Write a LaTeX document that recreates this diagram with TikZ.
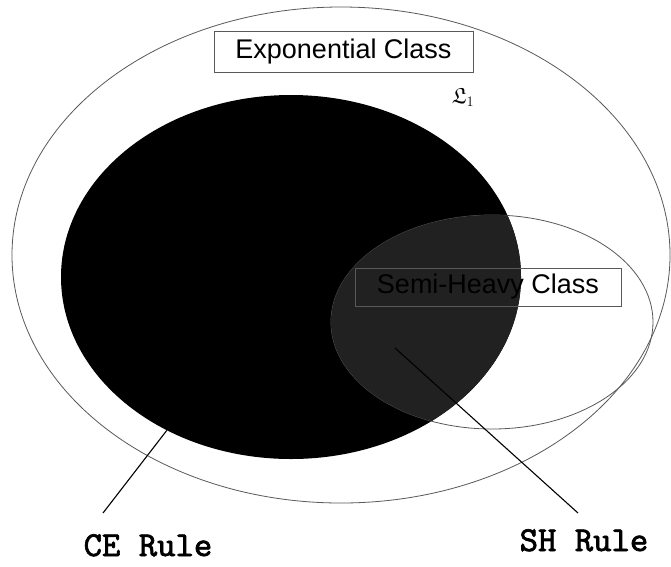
\documentclass[tikz,border=0pt]{standalone}
\usepackage{amsfonts}
\usepackage{fontspec}
\setmainfont{Liberation Sans}
\newfontfamily\typefont[FakeBold=2]{lmmono10-regular.otf}
\usetikzlibrary{shapes.geometric}
\begin{document}
\begin{tikzpicture}[x=1pt,y=-1pt,
  thinline/.style={draw=black!65,line width=0.8pt},
  classbox/.style={thinline,rectangle,inner sep=0pt,font=\fontsize{27}{30}\selectfont},
  rulelabel/.style={font=\typefont\fontsize{35}{37}\selectfont,anchor=base,inner sep=0pt},
  pointer/.style={draw=black,line width=1.1pt}]
\useasboundingbox (0,0) rectangle (671,566);
\fill[white] (0,0) rectangle (671,566);
% outer ellipse (Exponential class)
\node[ellipse,thinline,minimum width=658pt,minimum height=496pt,inner sep=0pt] (outer) at (341,255) {};
% black ellipse (CE rule region)
\node[ellipse,fill=black,minimum width=460pt,minimum height=364pt,inner sep=0pt] (blk) at (291,277) {};
% inner ellipse (Semi-heavy class)
\node[ellipse,thinline,minimum width=322pt,minimum height=214pt,inner sep=0pt] (inner) at (492,322) {};
% overlap region
\begin{scope}
  \clip (492,322) ellipse [x radius=161, y radius=107];
  \fill[black!87] (291,277) ellipse [x radius=230, y radius=182];
\end{scope}
% class labels
\node[classbox,minimum width=259pt,minimum height=41pt] (expbox) at (343.5,51.5) {Exponential Class};
\node[classbox,minimum width=266pt,minimum height=38pt] (semibox) at (488,287) {Semi-Heavy Class};
\node[inner sep=0pt,font=\fontsize{22}{24}\selectfont] (lsym) at (463,97) {$\mathfrak{L}_{1}$};
% pointers and rule labels
\node[rulelabel] (ce) at (148,556) {CE Rule};
\node[rulelabel] (sh) at (584,551) {SH Rule};
\coordinate (ceEnd) at (103,513);
\coordinate (shStart) at (395,348);
\coordinate (shEnd) at (578,513);
\draw[pointer] (blk.231) -- (ceEnd);
\draw[pointer] (shStart) -- (shEnd);
\end{tikzpicture}
\end{document}
